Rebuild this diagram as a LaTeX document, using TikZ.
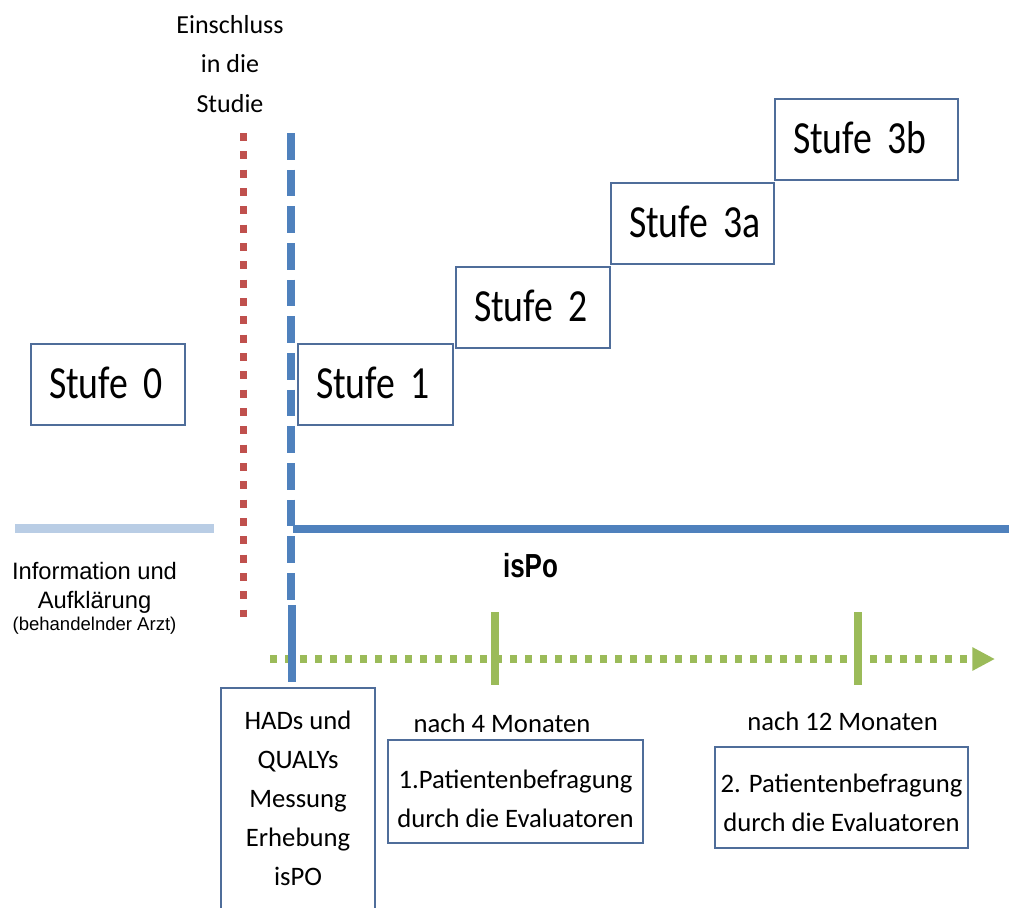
\documentclass[tikz,border=0pt]{standalone}
\usepackage{fontspec}
\setmainfont{Carlito}
\newfontfamily\stufefont[FakeStretch=0.82,WordSpace=0.45]{Carlito}
\newfontfamily\arialfont{Liberation Sans}
\newfontfamily\ispofont[FakeStretch=0.78]{Liberation Sans Bold}
\usetikzlibrary{arrows.meta}
\definecolor{ispored}{HTML}{C0504D}
\definecolor{ispoblue}{HTML}{4F81BD}
\definecolor{ispogreen}{HTML}{9BBB59}
\definecolor{ispolight}{HTML}{B9CDE5}
\definecolor{boxline}{RGB}{79,109,154}
\tikzset{
	stufe/.style={draw=boxline, line width=1.5pt, anchor=base west, inner xsep=13.5pt, inner ysep=0pt,
		text height=40.5pt, text depth=20.25pt, align=left, font=\stufefont\fontsize{34.5}{40}\selectfont},
	befragung/.style={draw=boxline, line width=1.5pt, anchor=base, inner ysep=0pt, align=center,
		font=\fontsize{20}{29.25}\selectfont},
	zeit/.style={anchor=base, align=center, font=\fontsize{20}{29.25}\selectfont}
}
\begin{document}
\begin{tikzpicture}[x=0.75pt,y=-0.75pt]
			\useasboundingbox (0,0) rectangle (1009,907);
			\node[zeit, font=\fontsize{19.5}{29.5}\selectfont] (einschluss) at (230,112) {Einschluss\\in die\\Studie};
			\node[stufe, text width=88.5pt] (stufe0) at (30,398) {\mbox{Stufe 0}};
			\node[stufe, text width=89.25pt] (stufe1) at (297,398) {\mbox{Stufe 1}};
			\node[stufe, text width=88.5pt] (stufe2) at (455,321) {\mbox{Stufe 2}};
			\node[stufe, text width=95.25pt] (stufe3a) at (610,237) {\mbox{Stufe 3a}};
			\node[stufe, text width=110.25pt] (stufe3b) at (774,153) {\mbox{Stufe 3b}};
			\draw[ispolight, line width=6.75pt] (15,528.5) -- (214,528.5);
			\draw[ispoblue, line width=6pt] (293,529) -- (1009,529);
			\draw[ispored, line width=5.25pt, dash pattern=on 6pt off 7.75pt] (243.5,133) -- (243.5,617);
			\draw[ispoblue, line width=6pt, dash pattern=on 20pt off 7.5pt] (291,133) -- (291,600);
			\node[anchor=base, align=center, font=\arialfont\fontsize{17.8}{21.75}\selectfont] (info) at (94.5,630)
				{Information und\\Aufklärung\\[-5.25pt]{\fontsize{13.9}{15}\selectfont(behandelnder Arzt)}};
			\node[anchor=base, font=\ispofont\fontsize{25}{30}\selectfont] (ispo) at (530.5,577) {isPo};
			\draw[ispogreen, line width=6pt, dash pattern=on 5.25pt off 6pt, -{Triangle[length=17pt,width=16.5pt]}] (270,659) -- (995,659);
			\draw[ispogreen, line width=6pt] (495,612) -- (495,685);
			\draw[ispogreen, line width=6pt] (858,612) -- (858,685);
			\draw[ispoblue, line width=6pt] (292,605) -- (292,682);
			\node[befragung, minimum width=115.5pt, text height=147.75pt, text depth=30pt] (messung) at (298,885)
				{HADs und\\QUALYs\\Messung\\Erhebung\\isPO};
			\node[zeit] (monat4) at (502,732) {nach 4 Monaten};
			\node[befragung, minimum width=191.25pt, text height=65.25pt, text depth=12pt] (befragung1) at (515.5,827)
				{1.Patientenbefragung\\durch die Evaluatoren};
			\node[zeit] (monat12) at (842.5,730) {nach 12 Monaten};
			\node[befragung, minimum width=189.75pt, text height=63pt, text depth=12.75pt] (befragung2) at (841.5,831)
				{2. Patientenbefragung\\durch die Evaluatoren};
			\end{tikzpicture}
\end{document}
